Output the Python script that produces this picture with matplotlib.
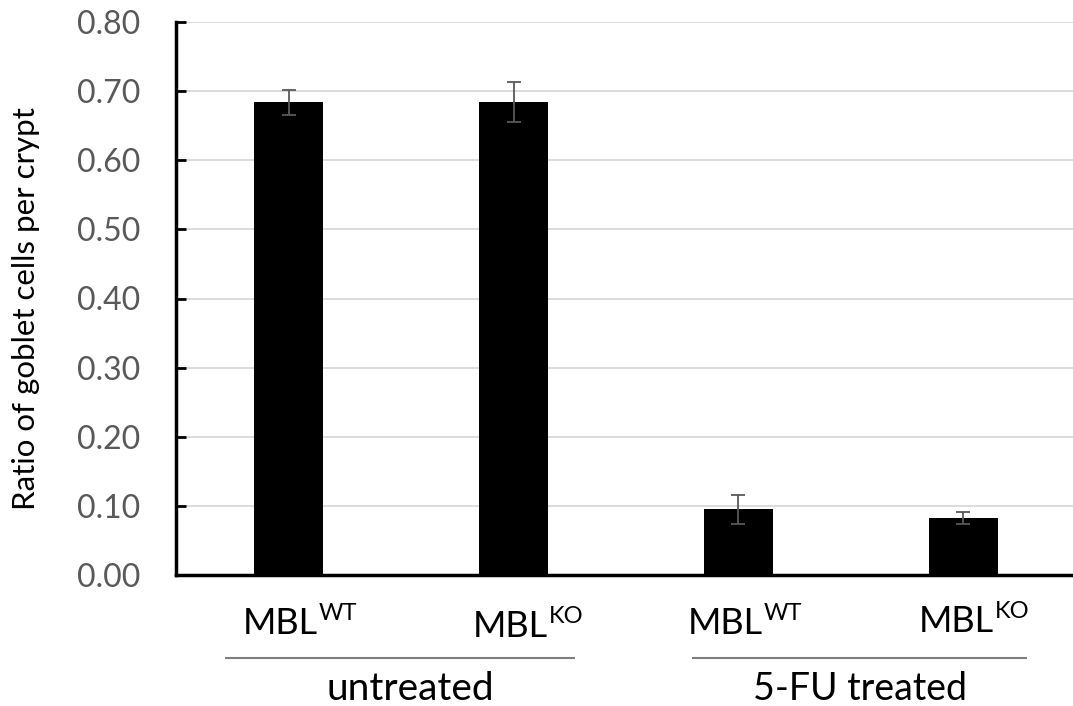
import matplotlib.pyplot as plt
import numpy as np

plt.rcParams['font.family'] = ['Lato', 'DejaVu Sans']

genotypes = ["WT", "KO", "WT", "KO"]
groups = ["untreated", "5-FU treated"]
ratios = [0.684, 0.684, 0.095, 0.082]
errors = [0.018, 0.029, 0.021, 0.0085]
yticks = [0.0, 0.1, 0.2, 0.3, 0.4, 0.5, 0.6, 0.7, 0.8]

fig = plt.figure(figsize=(10.73, 7.06), dpi=100)
ax = fig.add_axes([176/1073, 131/706, 900/1073, 553/706])

x = np.arange(len(ratios))
ax.bar(x, ratios, width=0.311, color="black", zorder=3)
ax.errorbar(x, ratios, yerr=errors, fmt="none", ecolor="#595959",
            elinewidth=1.3, capsize=5, capthick=1.3, zorder=4)

ax.set_xlim(-0.5, 3.5)
ax.set_ylim(0, 0.8)
ax.set_yticks(yticks)
ax.set_yticklabels([f"{v:.2f}" for v in yticks])
ax.tick_params(axis="y", direction="in", length=7, width=2, labelsize=23,
               labelcolor="#595959", pad=26)
ax.set_xticks([])
ax.yaxis.grid(True, color="#d9d9d9", linewidth=1.3, zorder=0)
for side in ["top", "right"]:
    ax.spines[side].set_visible(False)
ax.spines["left"].set_linewidth(2.5)
ax.spines["bottom"].set_linewidth(2.5)

trans = ax.get_xaxis_transform()

# category labels: MBL with a small superscript genotype
dx = [-8.5, -3.5, -13, -7]
dy = [-59, -62, -59, -57]
for i, g in enumerate(genotypes):
    main = ax.annotate("MBL", xy=(i, 0), xycoords=trans, xytext=(dx[i], dy[i]),
                       textcoords="offset pixels", ha="center", va="baseline",
                       fontsize=26, annotation_clip=False)
    ax.annotate(g, xy=(1, 0), xycoords=(main, trans),
                xytext=(1, dy[i] + 14), textcoords="offset pixels",
                ha="left", va="baseline", fontsize=17, annotation_clip=False)

# group lines and labels
line_spans = [(-0.28, 1.27), (1.80, 3.28)]
group_sizes = [28, 27]
group_dx = [10, 0]
for (x0, x1), name, fs, gx in zip(line_spans, groups, group_sizes, group_dx):
    ax.plot([x0, x1], [-0.150, -0.150], transform=trans, color="#7f7f7f",
            linewidth=1.5, clip_on=False)
    ax.annotate(name, xy=((x0 + x1) / 2, 0), xycoords=trans, xytext=(gx, -125),
                textcoords="offset pixels", ha="center", va="baseline",
                fontsize=fs, annotation_clip=False)

fig.text(26/1073, (706 - 309)/706, "Ratio of goblet cells per crypt",
         rotation=90, ha="center", va="center", fontsize=22.5)

fig.savefig("out.png", dpi=100)
